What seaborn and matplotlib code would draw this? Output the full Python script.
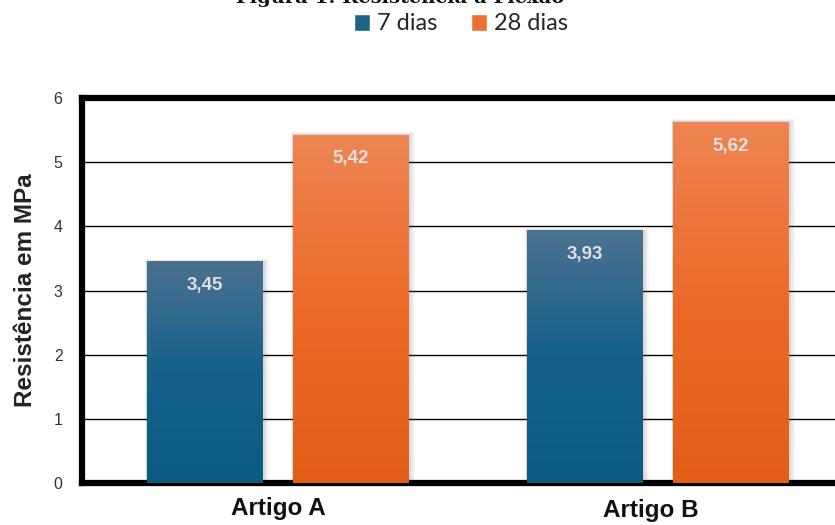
import numpy as np
import pandas as pd
import matplotlib
matplotlib.use("Agg")
import matplotlib.pyplot as plt
import matplotlib.transforms as mtransforms
import seaborn as sns
from matplotlib.colors import LinearSegmentedColormap
from matplotlib.patches import Rectangle, Patch

# ---- data ----
artigos = ["Artigo A", "Artigo B"]
idades = ["7 dias", "28 dias"]
valores_7 = [3.45, 3.93]
valores_28 = [5.42, 5.62]
rotulos_7 = ["3,45", "3,93"]
rotulos_28 = ["5,42", "5,62"]
titulo = "Figura 1: Resistência à Flexão"
y_label = "Resistência em MPa"

df = pd.DataFrame({
    "Artigo": artigos * 2,
    "Idade": [idades[0]] * 2 + [idades[1]] * 2,
    "MPa": valores_7 + valores_28,
})

sns.set_theme(style="white")
plt.rcParams["font.family"] = ["Liberation Sans", "DejaVu Sans"]

fig = plt.figure(figsize=(8.35, 5.25), dpi=100)
ax = fig.add_axes([82/835, 1 - 483/525, (867 - 82)/835, (483 - 98)/525])

pal = {"7 dias": "#1f6688", "28 dias": "#ea6e2e"}
sns.barplot(data=df, x="Artigo", y="MPa", hue="Idade", order=artigos,
            hue_order=idades, palette=pal, width=0.768, gap=0.206,
            ax=ax, zorder=3, linewidth=0, saturation=1)

ax.set_ylim(0, 6)
ax.set_xlim(-0.516, 1.55)
ax.set_yticks(range(0, 7))
ax.yaxis.grid(True, color="black", linewidth=1.0, zorder=0)
ax.xaxis.grid(False)
ax.set_axisbelow(True)

for s in ["left", "top", "bottom"]:
    ax.spines[s].set_linewidth(4.5)
    ax.spines[s].set_color("black")
ax.spines["right"].set_visible(False)

ax.tick_params(axis="y", length=0, pad=14, labelsize=11.5, labelcolor="#333333")
ax.tick_params(axis="x", length=0, pad=10, labelsize=17.5, labelcolor="#111111")
for t in ax.get_xticklabels():
    t.set_fontweight("bold")
# second category label sits a little left and lower in the reference
lbl_b = ax.get_xticklabels()[1]
lbl_b.set_transform(lbl_b.get_transform() +
                    mtransforms.ScaledTranslation(-7/100, -2.5/100, fig.dpi_scale_trans))
ax.set_xlabel("")
ax.set_ylabel(y_label, fontsize=17.5, fontweight="bold", labelpad=12, color="#222222")

# gradient overlay on each bar + shadow + value labels
grads = {
    "7 dias": LinearSegmentedColormap.from_list("b", ["#0b5a80", "#15608a", "#4b7290"]),
    "28 dias": LinearSegmentedColormap.from_list("o", ["#e35d18", "#ec6a28", "#ee8553"]),
}
bars = [p for p in ax.patches if isinstance(p, Rectangle) and p.get_height() > 0]
bars = sorted(bars, key=lambda p: p.get_x())
labels_sorted = [rotulos_7[0], rotulos_28[0], rotulos_7[1], rotulos_28[1]]
keys_sorted = ["7 dias", "28 dias", "7 dias", "28 dias"]
grad_img = np.linspace(0, 1, 256).reshape(-1, 1)
for p, lab, key in zip(bars, labels_sorted, keys_sorted):
    x0, w, h = p.get_x(), p.get_width(), p.get_height()
    for k, a in [(0.016, 0.06), (0.010, 0.08), (0.005, 0.10)]:
        ax.add_patch(Rectangle((x0 - k * 0.4, 0), w + k * 1.4, h + k * 3,
                               facecolor="#555555", alpha=a, linewidth=0, zorder=2))
    ax.imshow(grad_img, extent=[x0, x0 + w, 0, h], origin="lower",
              cmap=grads[key], aspect="auto", zorder=4)
    ax.text(x0 + w / 2, h - 0.37, lab, ha="center", va="center",
            fontsize=13.5, fontweight="bold", color="#e0e0e0", zorder=5)

ax.set_xlim(-0.516, 1.55)
ax.set_ylim(0, 6)

# legend
ax.legend_.remove()
handles = [Patch(facecolor="#1d6487"), Patch(facecolor="#ec7032")]
fig.legend(handles, idades, loc="center", bbox_to_anchor=(461/835, 1 - 24/525),
           ncol=2, frameon=False, handlelength=0.7, handleheight=0.7,
           handletextpad=0.3, columnspacing=1.4,
           prop={"family": "Lato", "size": 17})

# title (cut off at top, as in the reference)
fig.text(400/835, 1 - 3/525, titulo, ha="center", va="baseline",
         fontsize=14, fontweight="bold", family="DejaVu Serif", color="#111111")

fig.savefig("out.png", dpi=100)
